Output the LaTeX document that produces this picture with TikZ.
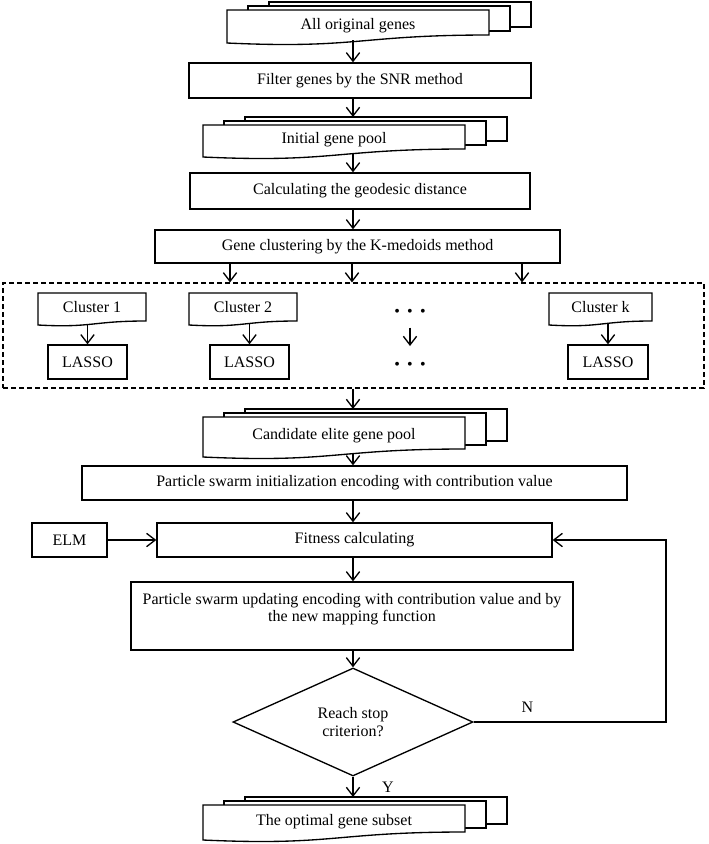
\documentclass[tikz,border=0pt]{standalone}
\usepackage{fontspec}
\setmainfont{Liberation Serif}
\usetikzlibrary{arrows.meta,shapes.geometric}

\tikzset{
  procbox/.style={draw, line width=1pt, minimum height=25.5pt, inner sep=2pt, align=center},
  sheet/.style={draw, fill=white, line width=1pt},
  frame/.style={draw, dash pattern=on 4pt off 2pt, line width=0.9pt},
  arr/.style={-{Straight Barb[length=6.5pt,width=10pt]}, line width=1pt},
}

% stacked documents: name, left, top, height, text
\newcommand\genepool[5]{%
  \foreach \s in {2,1}
    \draw[sheet] ({#2+21*\s},{#3-4*\s}) rectangle ({#2+262+21*\s},{#3+#4-8-4*\s});
  \draw[sheet] (#2,#3) -- ({#2+262},#3) -- ({#2+262},{#3+#4-8})
    .. controls ({#2+131},{#3+#4-8}) and ({#2+131},{#3+#4+6}) .. (#2,{#3+#4}) -- cycle;
  \node (#1) at ({#2+131},{#3+#4/2-1}) {#5};
  \coordinate (#1-in) at (353,{#3-8});
  \coordinate (#1-out) at (353,{#3+#4-3});
}

% single document: name, left, top, width, text
\newcommand\clusterdoc[5]{%
  \draw[sheet] (#2,#3) -- ({#2+#4},#3) -- ({#2+#4},{#3+28})
    .. controls ({#2+#4/2},{#3+28}) and ({#2+#4/2},{#3+35}) .. (#2,{#3+32}) -- cycle;
  \node (#1) at ({#2+#4/2},{#3+14}) {#5};
  \coordinate (#1-b) at ({#2+#4/2},{#3+31});
}

\begin{document}
\begin{tikzpicture}[x=0.75pt, y=-0.75pt, font=\fontsize{12}{13}\selectfont]
  \useasboundingbox (0,0) rectangle (709,844);
  \coordinate (ax) at (353,0);
  \coordinate (loop) at (666,0);

  \genepool{orig}{227}{10}{33}{All original genes}
  \node[procbox, minimum width=256.5pt, minimum height=26.25pt] (filter) at (360,80.5) {Filter genes by the SNR method};
  \genepool{init}{203}{125}{32}{Initial gene pool}
  \node[procbox, minimum width=255pt, minimum height=27pt] (calc) at (360,191) {Calculating the geodesic distance};
  \node[procbox, minimum width=303.75pt, minimum height=24.75pt] (clust) at (357.5,246.5) {Gene clustering by the K-medoids method};

  \draw[arr] (orig-out) -- (filter.north -| ax);
  \draw[arr] (filter.south -| ax) -- (init-in);
  \draw[arr] (init-out) -- (calc.north -| ax);
  \draw[arr] (calc.south -| ax) -- (clust.north -| ax);

  % clusters
  \node[frame, minimum width=525.75pt, minimum height=78.75pt] (grp) at (353.5,335.5) {};
  \foreach \x in {230,352,522}
    \draw[arr] (\x,0|-clust.south) -- (\x,0|-grp.north);

  \clusterdoc{c1}{38}{293}{108}{Cluster 1}
  \clusterdoc{c2}{189}{293}{108}{Cluster 2}
  \clusterdoc{ck}{549}{293}{103}{Cluster k}
  \node[procbox, minimum width=59.25pt] (l1) at (87.5,362) {LASSO};
  \node[procbox, minimum width=59.25pt] (l2) at (249.5,362) {LASSO};
  \node[procbox, minimum width=60pt] (lk) at (608,362) {LASSO};
  \draw[arr] (l1.north |- c1-b) -- (l1.north);
  \draw[arr] (l2.north |- c2-b) -- (l2.north);
  \draw[arr] (lk.north |- ck-b) -- (lk.north);

  \node (dtop) at (410,313) {\textbullet\hspace{5.5pt}\textbullet\hspace{5.5pt}\textbullet};
  \node (dbot) at (410,366) {\textbullet\hspace{5.5pt}\textbullet\hspace{5.5pt}\textbullet};
  \draw[arr] ([yshift=-11pt]dtop.center) -- ([yshift=15pt]dbot.center);

  % swarm search
  \genepool{cand}{203}{417}{40}{Candidate elite gene pool}
  \node[procbox, minimum width=408.75pt] (pinit) at (354.5,483) {Particle swarm initialization encoding with contribution value};
  \node[procbox, minimum width=56.25pt] (elm) at (69.5,540) {ELM};
  \node[procbox, minimum width=296.25pt] (fit) at (354.5,540) {Fitness calculating};
  \node[procbox, minimum width=331.5pt, minimum height=51pt] (upd) at (352,616)
    {Particle swarm updating encoding with contribution value and by\\the new mapping function\\\mbox{}};
  \node[draw, diamond, line width=1pt, minimum width=180pt, minimum height=81pt, inner sep=0pt, align=center] (stop) at (353,722) {Reach stop\\criterion?};
  \genepool{opt}{203}{805}{35}{The optimal gene subset}

  \draw[arr] (grp.south -| ax) -- (cand-in);
  \draw[arr] (cand-out) -- (pinit.north -| ax);
  \draw[arr] (pinit.south -| ax) -- (fit.north -| ax);
  \draw[arr] (elm) -- (fit);
  \draw[arr] (fit.south -| ax) -- (upd.north -| ax);
  \draw[arr] (upd.south -| stop.north) -- (stop.north);
  \draw[arr] (stop.east) -- node[pos=0.28, above=3pt] {N} (stop.east -| loop) |- (fit.east);
  \draw[arr] (stop.south) -- node[midway, right=18pt] {Y} (opt-in);
\end{tikzpicture}
\end{document}
